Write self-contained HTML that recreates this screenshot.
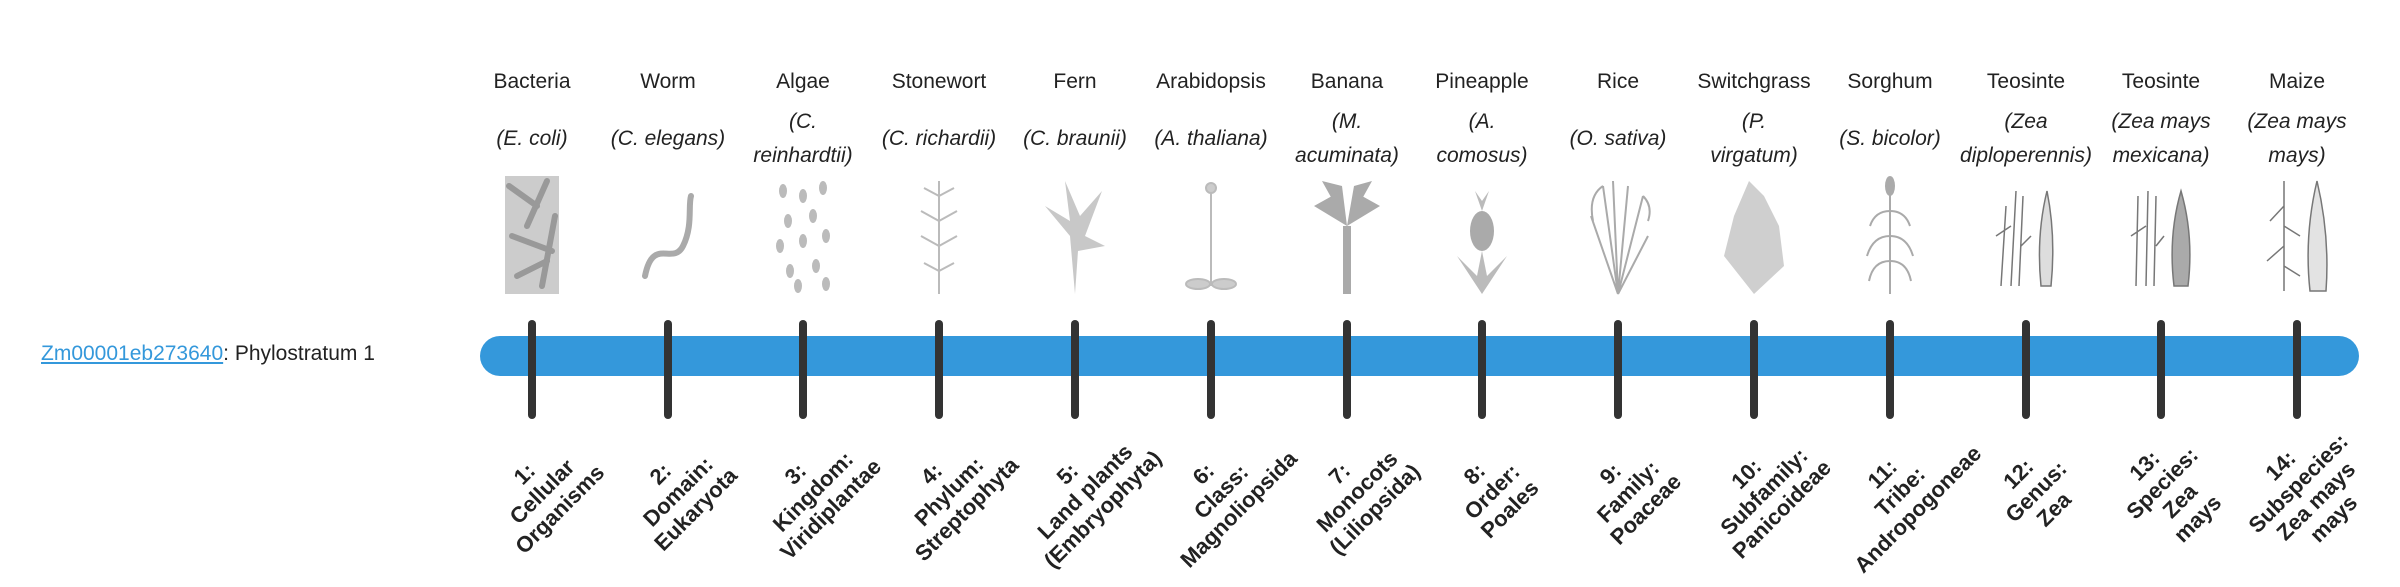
<!DOCTYPE html>
<html><head><meta charset="utf-8">
<style>
body{margin:0;width:2400px;height:580px;background:#fff;position:relative;overflow:hidden;font-family:"Liberation Sans",sans-serif;color:#222}
.nm{position:absolute;top:70px;width:136px;margin-left:-68px;text-align:center;font-size:21px;white-space:nowrap}
.sp{position:absolute;top:105px;height:68px;width:136px;margin-left:-68px;display:flex;align-items:center;justify-content:center;text-align:center;font-size:21px;font-style:italic;line-height:34px;white-space:nowrap}
.im{position:absolute;top:176px;width:70px;height:120px;margin-left:-35px}
.tk{position:absolute;top:320px;width:8px;height:99px;margin-left:-4px;background:#333;border-radius:4px}
.lb{position:absolute;top:454px;width:170px;height:75px;margin-left:-75px;text-align:center;font-weight:bold;font-size:22px;line-height:25px;transform:rotate(-45deg);white-space:nowrap;color:#222}
</style></head><body>
<div style="position:absolute;left:41px;top:340px;font-size:21px;line-height:28px"><span style="color:#3498db;text-decoration:underline">Zm00001eb273640</span>: Phylostratum 1</div>
<div style="position:absolute;left:480px;top:336px;width:1879px;height:40px;background:#3498db;border-radius:20px"></div>

<div class="nm" style="left:532px">Bacteria</div><div class="sp" style="left:532px">(E. coli)</div>
<div class="nm" style="left:668px">Worm</div><div class="sp" style="left:668px">(C. elegans)</div>
<div class="nm" style="left:803px">Algae</div><div class="sp" style="left:803px">(C.<br>reinhardtii)</div>
<div class="nm" style="left:939px">Stonewort</div><div class="sp" style="left:939px">(C. richardii)</div>
<div class="nm" style="left:1075px">Fern</div><div class="sp" style="left:1075px">(C. braunii)</div>
<div class="nm" style="left:1211px">Arabidopsis</div><div class="sp" style="left:1211px">(A. thaliana)</div>
<div class="nm" style="left:1347px">Banana</div><div class="sp" style="left:1347px">(M.<br>acuminata)</div>
<div class="nm" style="left:1482px">Pineapple</div><div class="sp" style="left:1482px">(A.<br>comosus)</div>
<div class="nm" style="left:1618px">Rice</div><div class="sp" style="left:1618px">(O. sativa)</div>
<div class="nm" style="left:1754px">Switchgrass</div><div class="sp" style="left:1754px">(P.<br>virgatum)</div>
<div class="nm" style="left:1890px">Sorghum</div><div class="sp" style="left:1890px">(S. bicolor)</div>
<div class="nm" style="left:2026px">Teosinte</div><div class="sp" style="left:2026px">(Zea<br>diploperennis)</div>
<div class="nm" style="left:2161px">Teosinte</div><div class="sp" style="left:2161px">(Zea mays<br>mexicana)</div>
<div class="nm" style="left:2297px">Maize</div><div class="sp" style="left:2297px">(Zea mays<br>mays)</div>

<svg class="im" style="left:532px" viewBox="0 0 70 120"><rect x="8" y="0" width="54" height="118" fill="#ccc"/><g stroke="#999" stroke-width="6" stroke-linecap="round"><line x1="12" y1="10" x2="40" y2="30"/><line x1="50" y1="5" x2="30" y2="50"/><line x1="15" y1="60" x2="55" y2="75"/><line x1="20" y1="100" x2="50" y2="85"/><line x1="58" y1="40" x2="45" y2="110"/></g></svg>
<svg class="im" style="left:668px" viewBox="0 0 70 120"><path d="M12 100 C20 60,40 90,50 70 S55 30,58 20" fill="none" stroke="#aaa" stroke-width="6" stroke-linecap="round"/></svg>
<svg class="im" style="left:803px" viewBox="0 0 70 120" fill="#bbb"><g><ellipse cx="15" cy="15" rx="4" ry="7"/><ellipse cx="35" cy="20" rx="4" ry="7"/><ellipse cx="55" cy="12" rx="4" ry="7"/><ellipse cx="20" cy="45" rx="4" ry="7"/><ellipse cx="45" cy="40" rx="4" ry="7"/><ellipse cx="12" cy="70" rx="4" ry="7"/><ellipse cx="35" cy="65" rx="4" ry="7"/><ellipse cx="58" cy="60" rx="4" ry="7"/><ellipse cx="22" cy="95" rx="4" ry="7"/><ellipse cx="48" cy="90" rx="4" ry="7"/><ellipse cx="30" cy="110" rx="4" ry="7"/><ellipse cx="58" cy="108" rx="4" ry="7"/></g></svg>
<svg class="im" style="left:939px" viewBox="0 0 70 120" stroke="#bbb" stroke-width="2" fill="none"><line x1="35" y1="5" x2="35" y2="118"/><path d="M35 20l-15 -8M35 20l15 -8M35 45l-18 -10M35 45l18 -10M35 70l-18 -10M35 70l18 -10M35 95l-15 -8M35 95l15 -8"/></svg>
<svg class="im" style="left:1075px" viewBox="0 0 70 120" fill="#c8c8c8"><path d="M35 118 L30 60 L5 30 L30 45 L25 5 L40 40 L62 15 L45 60 L65 70 L38 75 Z"/></svg>
<svg class="im" style="left:1211px" viewBox="0 0 70 120" stroke="#bbb" stroke-width="2" fill="#ccc"><line x1="35" y1="10" x2="35" y2="110"/><ellipse cx="22" cy="108" rx="12" ry="5"/><ellipse cx="48" cy="108" rx="12" ry="5"/><circle cx="35" cy="12" r="5"/></svg>
<svg class="im" style="left:1347px" viewBox="0 0 70 120" fill="#aaa"><rect x="31" y="50" width="8" height="68"/><path d="M35 50 L2 30 L20 20 Z M35 50 L68 30 L50 20 Z M35 50 L10 5 L30 10 Z M35 50 L60 5 L42 10 Z"/></svg>
<svg class="im" style="left:1482px" viewBox="0 0 70 120" fill="#bbb"><ellipse cx="35" cy="55" rx="12" ry="20" fill="#aaa"/><path d="M35 35 L28 15 L35 25 L42 15 Z M35 118 L10 80 L30 100 L35 75 L40 100 L60 80 Z"/></svg>
<svg class="im" style="left:1618px" viewBox="0 0 70 120" stroke="#aaa" stroke-width="2" fill="none"><path d="M35 118 L20 10 M35 118 L30 5 M35 118 L45 10 M35 118 L60 20 M35 118 L8 40 M35 118 L65 60 M20 10 Q5 20 10 45 M60 20 Q70 30 65 45"/></svg>
<svg class="im" style="left:1754px" viewBox="0 0 70 120" fill="#cfcfcf"><path d="M35 118 L5 80 L15 40 L30 5 L45 20 L60 50 L65 90 Z"/></svg>
<svg class="im" style="left:1890px" viewBox="0 0 70 120" stroke="#aaa" stroke-width="2" fill="none"><line x1="35" y1="15" x2="35" y2="118"/><ellipse cx="35" cy="10" rx="4" ry="9" fill="#aaa"/><path d="M35 35 Q20 35 15 50 M35 35 Q50 35 55 50 M35 60 Q18 60 12 80 M35 60 Q52 60 58 80 M35 85 Q18 85 14 105 M35 85 Q52 85 56 105"/></svg>
<svg class="im" style="left:2026px" viewBox="0 0 70 120" stroke="#777" stroke-width="1.5" fill="none"><path d="M10 110 L15 30 M20 110 L25 15 M28 110 L32 20 M5 60 L20 50 M30 70 L40 60"/><path d="M50 110 Q45 60 56 15 Q65 60 60 110 Z" fill="#ddd"/></svg>
<svg class="im" style="left:2161px" viewBox="0 0 70 120" stroke="#777" stroke-width="1.5" fill="none"><path d="M10 110 L12 20 M20 110 L22 15 M28 110 L30 20 M5 60 L20 50 M30 70 L38 60"/><path d="M48 110 Q42 60 55 15 Q68 60 62 110 Z" fill="#aaa"/></svg>
<svg class="im" style="left:2297px" viewBox="0 0 70 120" stroke="#777" stroke-width="1.5" fill="none"><path d="M22 115 L22 5 M22 30 L8 45 M22 50 L38 60 M22 70 L5 85 M22 90 L38 100"/><path d="M48 115 Q42 60 55 5 Q68 60 64 115 Z" fill="#e3e3e3"/></svg>

<div class="tk" style="left:532px"></div><div class="tk" style="left:668px"></div><div class="tk" style="left:803px"></div><div class="tk" style="left:939px"></div><div class="tk" style="left:1075px"></div><div class="tk" style="left:1211px"></div><div class="tk" style="left:1347px"></div><div class="tk" style="left:1482px"></div><div class="tk" style="left:1618px"></div><div class="tk" style="left:1754px"></div><div class="tk" style="left:1890px"></div><div class="tk" style="left:2026px"></div><div class="tk" style="left:2161px"></div><div class="tk" style="left:2297px"></div>

<div class="lb" style="left:532px">1:<br>Cellular<br>Organisms</div>
<div class="lb" style="left:668px">2:<br>Domain:<br>Eukaryota</div>
<div class="lb" style="left:803px">3:<br>Kingdom:<br>Viridiplantae</div>
<div class="lb" style="left:939px">4:<br>Phylum:<br>Streptophyta</div>
<div class="lb" style="left:1075px">5:<br>Land plants<br>(Embryophyta)</div>
<div class="lb" style="left:1211px">6:<br>Class:<br>Magnoliopsida</div>
<div class="lb" style="left:1347px">7:<br>Monocots<br>(Liliopsida)</div>
<div class="lb" style="left:1482px">8:<br>Order:<br>Poales</div>
<div class="lb" style="left:1618px">9:<br>Family:<br>Poaceae</div>
<div class="lb" style="left:1754px">10:<br>Subfamily:<br>Panicoideae</div>
<div class="lb" style="left:1890px">11:<br>Tribe:<br>Andropogoneae</div>
<div class="lb" style="left:2026px">12:<br>Genus:<br>Zea</div>
<div class="lb" style="left:2161px;top:442px;height:100px">13:<br>Species:<br>Zea<br>mays</div>
<div class="lb" style="left:2297px;top:442px;height:100px">14:<br>Subspecies:<br>Zea mays<br>mays</div>
</body></html>
